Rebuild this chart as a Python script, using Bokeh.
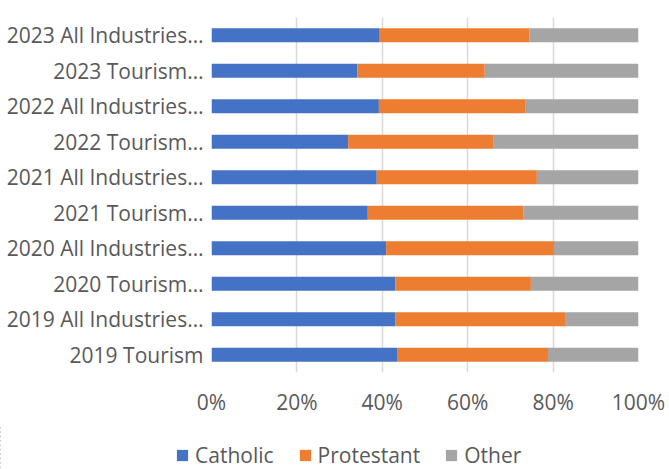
from bokeh.plotting import figure
from bokeh.layouts import column
from bokeh.models import (ColumnDataSource, FactorRange, Range1d, Legend, FixedTicker,
                          CustomJSTickFormatter, BoxAnnotation)
from bokeh.embed import file_html
from bokeh.resources import INLINE

categories = ["2019 Tourism", "2019 All Industries…", "2020 Tourism…", "2020 All Industries…",
              "2021 Tourism…", "2021 All Industries…", "2022 Tourism…", "2022 All Industries…",
              "2023 Tourism…", "2023 All Industries…"]
catholic = [43.6, 43.1, 43.1, 40.9, 36.6, 38.7, 32.0, 39.2, 34.2, 39.4]
protestant = [35.2, 39.7, 31.7, 39.3, 36.5, 37.5, 34.1, 34.4, 29.8, 35.1]
other = [21.2, 17.2, 25.2, 19.8, 26.9, 23.8, 33.9, 26.4, 36.0, 25.5]
series = ["Catholic", "Protestant", "Other"]
colors = ["#4472C4", "#ED7D31", "#A5A5A5"]
ticks = [0, 20, 40, 60, 80, 100]

FONT = "Open Sans"
TXT = "#595959"
W = 665

src = ColumnDataSource(dict(cat=categories, Catholic=catholic, Protestant=protestant, Other=other))

p = figure(width=W, height=425, output_backend="svg", toolbar_location=None,
           y_range=FactorRange(factors=categories, range_padding=0), x_range=Range1d(0, 100),
           min_border_left=211, min_border_right=27, min_border_top=17, min_border_bottom=53)
p.outline_line_color = None
p.frame_align = False

p.hbar_stack(series, y="cat", height=0.4, color=colors, source=src, line_color=None)

p.xaxis.ticker = FixedTicker(ticks=ticks)
p.xaxis.formatter = CustomJSTickFormatter(code="return tick + '%';")
p.xaxis.axis_line_color = None
p.xaxis.major_tick_line_color = None
p.xaxis.minor_tick_line_color = None
p.xaxis.major_tick_out = 0
p.xaxis.major_tick_in = 0
p.xaxis.minor_tick_out = 0
p.xaxis.major_label_text_font = FONT
p.xaxis.major_label_text_font_size = "21px"
p.xaxis.major_label_text_color = TXT
p.xaxis.major_label_standoff = 15

p.yaxis.axis_line_color = None
p.yaxis.major_tick_line_color = None
p.yaxis.minor_tick_line_color = None
p.yaxis.major_tick_out = 0
p.yaxis.major_tick_in = 0
p.yaxis.minor_tick_out = 0
p.yaxis.major_label_text_font = FONT
p.yaxis.major_label_text_font_size = "21px"
p.yaxis.major_label_text_color = TXT
p.yaxis.major_label_standoff = 8

p.ygrid.grid_line_color = None
p.xgrid.grid_line_color = "#D9D9D9"
p.xgrid.grid_line_width = 1.5

# legend strip: same stacked bars, kept outside the strip's visible x range, only their legend shows
p2 = figure(width=W, height=44, output_backend="svg", toolbar_location=None,
            x_range=Range1d(100000, 100100), y_range=FactorRange(factors=categories),
            min_border_left=0, min_border_right=0, min_border_top=0, min_border_bottom=0)
p2.frame_align = False
p2.axis.visible = False
p2.grid.visible = False
p2.outline_line_color = None
rs2 = p2.hbar_stack(series, y="cat", height=0.4, color=colors, source=src, line_color=None)
p2.add_layout(BoxAnnotation(fill_color="white", fill_alpha=1, line_color=None))

legend = Legend(items=[(s, [r]) for s, r in zip(series, rs2)], orientation="horizontal",
                location=(175, 0), border_line_color=None, background_fill_alpha=0,
                label_text_font=FONT, label_text_font_size="21px", label_text_color=TXT,
                glyph_width=14, glyph_height=14, label_standoff=6, spacing=24,
                margin=0, padding=0)
p2.add_layout(legend, "center")

open("out.html", "w").write(file_html(column(p, p2, spacing=0), INLINE))
